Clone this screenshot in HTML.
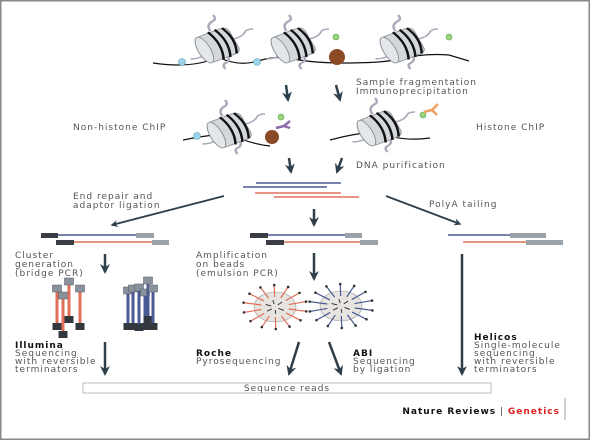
<!DOCTYPE html>
<html><head><meta charset="utf-8"><style>
html,body{margin:0;padding:0;background:#fff}
svg{display:block}
text{font-family:"DejaVu Sans","Liberation Sans",sans-serif;font-size:9px;fill:#555;letter-spacing:1px}
.b{font-weight:bold;fill:#111}
</style></head><body>
<svg width="590" height="440" viewBox="0 0 590 440">
<defs>
<marker id="ah" viewBox="0 0 10 10" refX="8" refY="5" markerWidth="4" markerHeight="4" orient="auto"><path d="M0,0 L10,5 L0,10 L3,5 z" fill="#2e3f4c"/></marker>
<g id="nuc">
<g transform="scale(1.25,1)">
<path d="M-6,-14 q-4,-6 2,-10 q3,-2 0,-6" stroke="#aab" stroke-width="2" fill="none"/>
<path d="M8,10 q2,6 -2,8 q-3,2 0,6" stroke="#aab" stroke-width="2" fill="none"/>
<path d="M12,-6 q8,-2 10,-8 q2,-2 6,-2" stroke="#aab" stroke-width="1.5" fill="none"/>
<path d="M-10,10 q-6,4 -12,4" stroke="#aab" stroke-width="1.5" fill="none"/>
<g transform="rotate(-25)">
<rect x="-14" y="-14" width="28" height="28" rx="5" fill="#d4d8dc" stroke="#8a9096" stroke-width="0.8"/>
<ellipse cx="-12" cy="0" rx="5" ry="14" fill="#e4e7ea" stroke="#8a9096" stroke-width="0.8"/>
<path d="M-2,-15 q6,15 0,30 M4,-15 q6,15 0,30 M10,-14 q6,14 0,28" stroke="#111" stroke-width="2" fill="none"/>
</g>
</g>
</g>
</defs>
<rect x="0.5" y="0.5" width="589" height="439" fill="#fff" stroke="#888" stroke-width="2"/>

<g>
<path d="M153,63 q40,6 65,-6 q20,10 40,4 q20,-6 36,-2 q20,4 50,4 q40,0 55,-4 q25,-6 50,-4 q20,6 20,6" stroke="#111" stroke-width="1.2" fill="none"/>
<use href="#nuc" x="218" y="45"/><use href="#nuc" x="294" y="45"/><use href="#nuc" x="403" y="45"/>
<circle cx="182" cy="62" r="3.5" fill="#9dd3ec" stroke="#5aa" stroke-width="0.6"/>
<circle cx="257" cy="62" r="3.5" fill="#9dd3ec" stroke="#5aa" stroke-width="0.6"/>
<circle cx="336" cy="37" r="3" fill="#9ed27c" stroke="#5a5" stroke-width="0.6"/>
<circle cx="449" cy="37" r="3" fill="#9ed27c" stroke="#5a5" stroke-width="0.6"/>
<circle cx="337" cy="57" r="8" fill="#8a4a25"/>
</g>
<line x1="286" y1="85" x2="288" y2="100" stroke="#2e3f4c" stroke-width="2.5" marker-end="url(#ah)"/>
<line x1="336" y1="85" x2="340" y2="100" stroke="#2e3f4c" stroke-width="2.5" marker-end="url(#ah)"/>
<text x="356" y="85">Sample fragmentation</text>
<text x="356" y="94">Immunoprecipitation</text>

<g>
<path d="M183,140 q30,-6 47,-6 q20,10 40,12" stroke="#111" stroke-width="1.2" fill="none"/>
<use href="#nuc" x="230" y="130"/>
<circle cx="197" cy="136" r="3.5" fill="#9dd3ec" stroke="#5aa" stroke-width="0.6"/>
<circle cx="281" cy="117" r="3" fill="#9ed27c" stroke="#5a5" stroke-width="0.6"/>
<circle cx="272" cy="137" r="7" fill="#8a4a25"/>
<path d="M276,128 l8,-2 l6,-5 M284,126 l6,2" stroke="#8a6aaa" stroke-width="2.5" fill="none"/>
</g>
<g>
<path d="M330,140 q30,-8 50,-8 q20,10 50,6" stroke="#111" stroke-width="1.2" fill="none"/>
<use href="#nuc" x="380" y="128"/>
<circle cx="423" cy="115" r="3" fill="#9ed27c" stroke="#5a5" stroke-width="0.6"/>
<path d="M424,112 l8,-2 l6,-6 M432,110 l5,5" stroke="#f0a060" stroke-width="2.5" fill="none"/>
</g>
<text x="73" y="130">Non-histone ChIP</text>
<text x="476" y="130">Histone ChIP</text>

<line x1="289" y1="158" x2="291" y2="172" stroke="#2e3f4c" stroke-width="2.5" marker-end="url(#ah)"/>
<line x1="342" y1="158" x2="337" y2="172" stroke="#2e3f4c" stroke-width="2.5" marker-end="url(#ah)"/>
<text x="356" y="168">DNA purification</text>

<g>
<line x1="256" y1="183" x2="341" y2="183" stroke="#4a5a94" stroke-width="1.5"/>
<line x1="243" y1="187" x2="327" y2="187" stroke="#4a5a94" stroke-width="1.5"/>
<line x1="255" y1="193" x2="341" y2="193" stroke="#e0705a" stroke-width="1.5"/>
<line x1="274" y1="197" x2="359" y2="197" stroke="#e0705a" stroke-width="1.5"/>
</g>
<text x="73" y="199">End repair and</text>
<text x="73" y="208">adaptor ligation</text>
<text x="429" y="207">PolyA tailing</text>
<line x1="224" y1="196" x2="112" y2="225" stroke="#2e3f4c" stroke-width="1.8" marker-end="url(#ah)"/>
<line x1="314" y1="209" x2="314" y2="225" stroke="#2e3f4c" stroke-width="2.5" marker-end="url(#ah)"/>
<line x1="386" y1="196" x2="460" y2="224" stroke="#2e3f4c" stroke-width="1.8" marker-end="url(#ah)"/>

<g>
<line x1="58" y1="235" x2="136" y2="235" stroke="#4a5a94" stroke-width="1.5"/>
<rect x="41" y="233" width="17" height="5" fill="#3a3e44"/><rect x="136" y="233" width="18" height="5" fill="#9aa2aa"/>
<line x1="74" y1="242" x2="152" y2="242" stroke="#e0705a" stroke-width="1.5"/>
<rect x="56" y="240" width="18" height="5" fill="#3a3e44"/><rect x="152" y="240" width="17" height="5" fill="#9aa2aa"/>
</g>
<g>
<line x1="268" y1="235" x2="345" y2="235" stroke="#4a5a94" stroke-width="1.5"/>
<rect x="250" y="233" width="18" height="5" fill="#3a3e44"/><rect x="345" y="233" width="17" height="5" fill="#9aa2aa"/>
<line x1="284" y1="242" x2="360" y2="242" stroke="#e0705a" stroke-width="1.5"/>
<rect x="266" y="240" width="18" height="5" fill="#3a3e44"/><rect x="360" y="240" width="18" height="5" fill="#9aa2aa"/>
</g>
<g>
<line x1="448" y1="235" x2="510" y2="235" stroke="#4a5a94" stroke-width="1.5"/>
<rect x="510" y="233" width="36" height="5" fill="#9aa2aa"/>
<line x1="463" y1="242" x2="526" y2="242" stroke="#e0705a" stroke-width="1.5"/>
<rect x="526" y="240" width="37" height="5" fill="#9aa2aa"/>
</g>

<text x="15" y="258">Cluster</text>
<text x="15" y="267">generation</text>
<text x="15" y="276">(bridge PCR)</text>
<text x="196" y="258">Amplification</text>
<text x="196" y="267">on beads</text>
<text x="196" y="276">(emulsion PCR)</text>
<line x1="105" y1="254" x2="105" y2="272" stroke="#2e3f4c" stroke-width="2.5" marker-end="url(#ah)"/>
<line x1="314" y1="253" x2="314" y2="279" stroke="#2e3f4c" stroke-width="2.5" marker-end="url(#ah)"/>

<g id="clusters"></g>
<g id="beads"></g>

<text x="15" y="348" class="b">Illumina</text>
<text x="15" y="356">Sequencing</text>
<text x="15" y="364">with reversible</text>
<text x="15" y="372">terminators</text>
<text x="196" y="356" class="b">Roche</text>
<text x="196" y="364">Pyrosequencing</text>
<text x="353" y="356" class="b">ABI</text>
<text x="353" y="364">Sequencing</text>
<text x="353" y="372">by ligation</text>
<text x="474" y="340" class="b">Helicos</text>
<text x="474" y="348">Single-molecule</text>
<text x="474" y="356">sequencing</text>
<text x="474" y="364">with reversible</text>
<text x="474" y="372">terminators</text>

<line x1="105" y1="342" x2="105" y2="374" stroke="#2e3f4c" stroke-width="2.5" marker-end="url(#ah)"/>
<line x1="299" y1="342" x2="289" y2="374" stroke="#2e3f4c" stroke-width="2.5" marker-end="url(#ah)"/>
<line x1="329" y1="342" x2="341" y2="374" stroke="#2e3f4c" stroke-width="2.5" marker-end="url(#ah)"/>
<line x1="462" y1="254" x2="462" y2="374" stroke="#2e3f4c" stroke-width="2.5" marker-end="url(#ah)"/>

<rect x="83" y="383" width="408" height="10" fill="#fff" stroke="#aaa" stroke-width="0.8"/>
<text x="287" y="391" text-anchor="middle">Sequence reads</text>

<text x="560" y="414" text-anchor="end" style="font-size:9px"><tspan class="b">Nature Reviews</tspan><tspan fill="#444"> | </tspan><tspan style="fill:#e02020;font-weight:bold">Genetics</tspan></text>
<line x1="565" y1="398" x2="565" y2="420" stroke="#888" stroke-width="0.8"/>
</svg>
<script>
const NS="http://www.w3.org/2000/svg";
const redBars=[[57,290,325],[63,297,333],[69,283,318],[80,290,325]];
const blueBars=[[128,292,325],[133,290,325],[139,289,326],[145,294,325],[148,282,318],[153,290,325]];
function mk(t,a){const e=document.createElementNS(NS,t);for(const k in a)e.setAttribute(k,a[k]);return e;}
const cl=document.getElementById('clusters');
function drawBars(bars,col){bars.forEach(b=>{
 const g=mk('g',{});
 
 
 g.appendChild(mk('line',{x1:b[0],y1:b[1],x2:b[0],y2:b[2],stroke:col,'stroke-width':3}));
 g.appendChild(mk('rect',{x:b[0]-4.5,y:b[1]-5,width:9,height:7,fill:'#8a939c',stroke:'#556',"stroke-width":0.5}));
 g.appendChild(mk('rect',{x:b[0]-4.5,y:b[2]-2,width:9,height:7,fill:'#33383e'}));
 cl.appendChild(g);});}
drawBars(redBars,'#e0705a');drawBars(blueBars,'#4a5a94');
const beads=[[275,307,'#e0705a'],[341,306,'#4a5a94']];
const bd=document.getElementById('beads');
beads.forEach(b=>{
 const g=mk('g',{});
 
 
 for(let i=0;i<14;i++){const a=i/14*Math.PI*2+0.2;
  const x1=b[0]+Math.cos(a)*14,y1=b[1]+Math.sin(a)*10,x2=b[0]+Math.cos(a)*32,y2=b[1]+Math.sin(a)*22;
  g.appendChild(mk('line',{x1:x1,y1:y1,x2:x2,y2:y2,stroke:b[2],'stroke-width':1.2}));
  g.appendChild(mk('circle',{cx:x2,cy:y2,r:1.3,fill:'#333'}));}
 g.insertBefore(mk('ellipse',{cx:b[0],cy:b[1],rx:21,ry:15,fill:'#e8e4e0',stroke:'#999','stroke-width':0.6}),g.firstChild);
 for(let i=0;i<6;i++){const a=i+0.5;g.appendChild(mk('line',{x1:b[0]+Math.cos(a)*4,y1:b[1]+Math.sin(a)*3,x2:b[0]+Math.cos(a)*10,y2:b[1]+Math.sin(a)*7,stroke:'#333','stroke-width':1}));}
 bd.appendChild(g);});
</script>
</body></html>
